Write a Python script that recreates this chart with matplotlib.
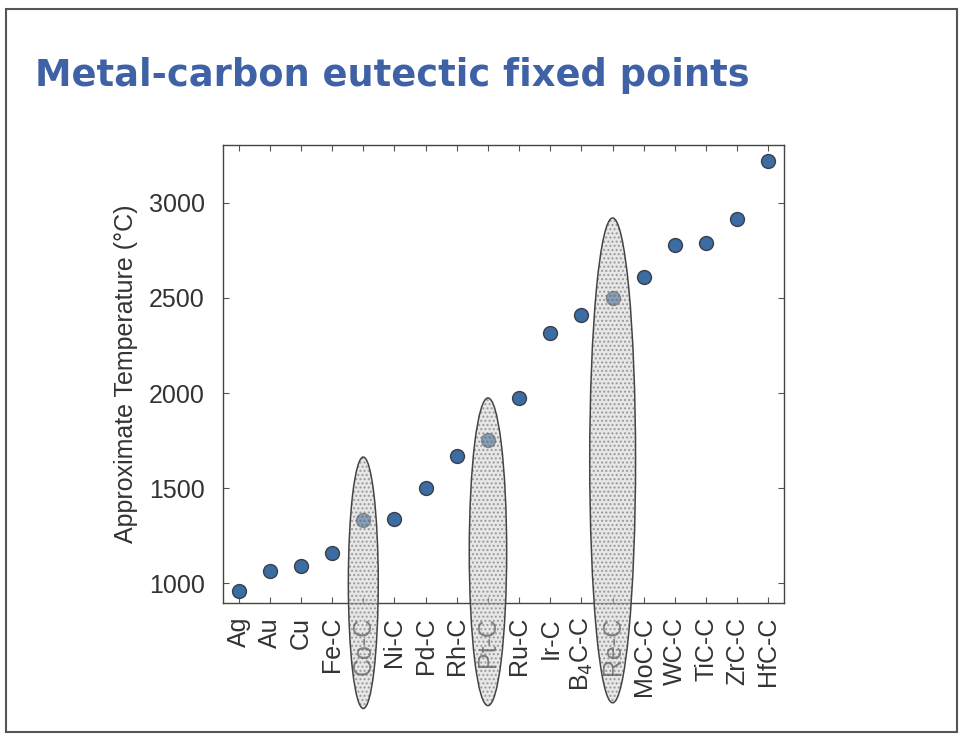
import matplotlib.pyplot as plt
from matplotlib.patches import Ellipse, Rectangle

plt.rcParams['font.family'] = ['Liberation Sans', 'DejaVu Sans']

# fixed points and approximate temperatures
pontos = ["Ag", "Au", "Cu", "Fe-C", "Co-C", "Ni-C", "Pd-C", "Rh-C", "Pt-C",
          "Ru-C", "Ir-C", "B$_4$C-C", "Re-C", "MoC-C", "WC-C", "TiC-C", "ZrC-C", "HfC-C"]
temperaturas = [960, 1063, 1089, 1158, 1332, 1338, 1500, 1668, 1753,
                1974, 2316, 2411, 2500, 2611, 2779, 2789, 2916, 3221]

# highlighted points: top of ellipse, bottom of ellipse, width
destaques = ["Co-C", "Pt-C", "Re-C"]
topo_elipse = [1663, 1974, 2921]
base_elipse = [340, 355, 370]
largura_elipse = [0.96, 1.2, 1.47]

fig = plt.figure(figsize=(9.63, 7.36), dpi=100)

# slide frame
fig.patches.append(Rectangle((0.006, 0.006), 0.988, 0.982, transform=fig.transFigure,
                             fill=False, edgecolor="#555555", linewidth=1.5))
fig.text(0.036, 0.897, "Metal-carbon eutectic fixed points", fontsize=26.5,
         fontweight="bold", color="#3f62a6", family="DejaVu Sans", va="center")

ax = fig.add_axes([0.2316, 0.1807, 0.5826, 0.6223])
x = list(range(1, len(pontos) + 1))
ax.plot(x, temperaturas, "o", markersize=10, markerfacecolor="#3b6da3",
        markeredgecolor="#3a3f4a", markeredgewidth=1.0, zorder=3)

for nome, topo, base, larg in zip(destaques, topo_elipse, base_elipse, largura_elipse):
    xc = pontos.index(nome) + 1
    yc = (topo + base) / 2
    alt = topo - base
    hach = Ellipse((xc, yc), larg, alt, facecolor="#d0d0d0", edgecolor="#5a5a5a",
                   hatch="....", linewidth=0, alpha=0.5, clip_on=False, zorder=4)
    borda = Ellipse((xc, yc), larg, alt, fill=False, edgecolor="#444444",
                    linewidth=1.1, clip_on=False, zorder=5)
    ax.add_patch(hach)
    ax.add_patch(borda)

ax.set_xlim(0.5, 18.5)
ax.set_ylim(895, 3305)
ax.set_xticks(x)
ax.set_xticklabels(pontos, rotation=90, fontsize=18, color="#333333")
ax.set_yticks([1000, 1500, 2000, 2500, 3000])
ax.tick_params(axis="both", direction="in", top=True, right=True, length=4,
               width=0.8, color="#555555", labelsize=18, labelcolor="#333333")
ax.tick_params(axis="x", pad=10)
ax.tick_params(axis="y", pad=13)
ax.set_ylabel("Approximate Temperature (°C)", fontsize=18, color="#333333", labelpad=8)
for s in ax.spines.values():
    s.set_color("#444444")
    s.set_linewidth(1.0)

plt.savefig("out.png", dpi=100)
